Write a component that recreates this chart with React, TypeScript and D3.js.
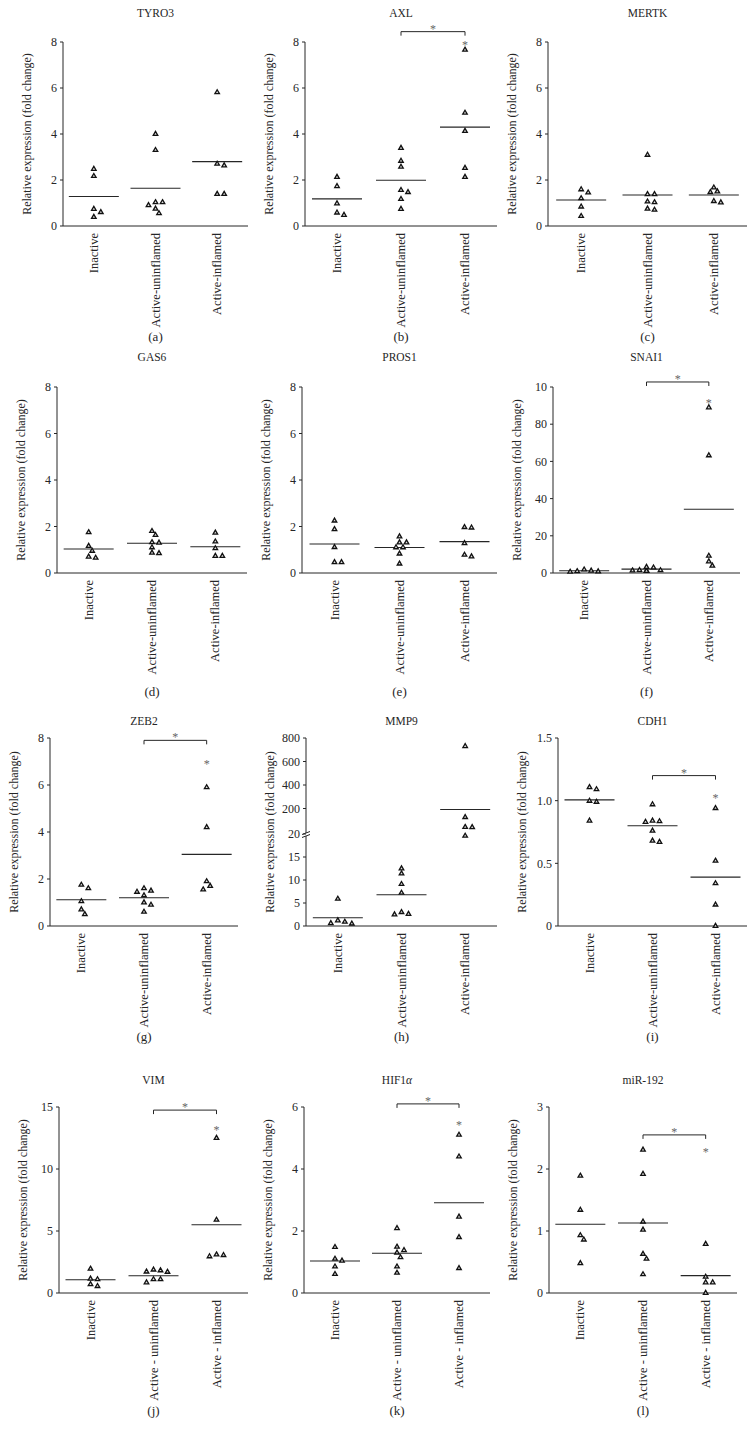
import React from "react";
import * as d3 from "d3";

// group names (rows 1-3 use hyphen, row 4 uses spaced hyphen)
const GROUPS = ["Inactive", "Active-uninflamed", "Active-inflamed"];
const GROUPS_SPACED = ["Inactive", "Active - uninflamed", "Active - inflamed"];

const CAPTIONS = ["(a)", "(b)", "(c)", "(d)", "(e)", "(f)", "(g)", "(h)", "(i)", "(j)", "(k)", "(l)"];

// fold-change values, one array per group
const tyro3Values = [
  [2.48, 2.17, 0.74, 0.6, 0.39],
  [4.0, 3.3, 1.03, 1.03, 0.9, 0.75, 0.55],
  [5.81, 2.7, 2.63, 1.39, 1.39],
];
const tyro3Means = [1.28, 1.64, 2.8];

const axlValues = [
  [2.13, 1.73, 0.98, 0.58, 0.48],
  [3.39, 2.83, 2.57, 1.56, 1.47, 1.17, 0.74],
  [7.66, 4.92, 4.13, 2.52, 2.13],
];
const axlMeans = [1.18, 1.99, 4.3];

const mertkValues = [
  [1.59, 1.45, 1.2, 0.84, 0.43],
  [3.09, 1.38, 1.38, 1.06, 1.03, 0.7, 0.75],
  [1.67, 1.5, 1.47, 1.02, 1.08],
];
const mertkMeans = [1.13, 1.35, 1.35];

const gas6Values = [
  [1.75, 1.16, 0.95, 0.7, 0.65],
  [1.8, 1.63, 1.32, 1.3, 1.1, 0.87, 0.85],
  [1.73, 1.35, 1.06, 0.73, 0.73],
];
const gas6Means = [1.03, 1.28, 1.13];

const pros1Values = [
  [2.25, 1.88, 1.11, 0.46, 0.46],
  [1.57, 1.31, 1.31, 1.1, 1.1, 0.83, 0.4],
  [1.95, 1.97, 1.28, 0.71, 0.78],
];
const pros1Means = [1.25, 1.1, 1.35];

const snai1Values = [
  [1.8, 1.2, 0.8, 0.6, 0.9],
  [1.5, 1.2, 1.0, 3.2, 1.3, 1.4, 2.9],
  [89, 63.2, 9.2, 6.2, 3.9],
];
const snai1Means = [1.2, 2.1, 34.3];
const snai1TickLabels = ["0", "20", "40", "60", "80", "10"];

const zeb2Values = [
  [1.75, 1.6, 1.05, 0.7, 0.5],
  [1.6, 1.45, 1.5, 1.3, 1.0, 0.9, 0.6],
  [5.9, 4.2, 1.9, 1.55, 1.7],
];
const zeb2Means = [1.12, 1.2, 3.05];

const mmp9Values = [
  [5.9, 0.9, 0.5, 0.6, 1.2],
  [12.5, 11.4, 9.1, 7.2, 3.0, 2.5, 2.6],
  [730, 126, 42, 40, 19.6],
];
const mmp9Means = [1.8, 6.8, 192];

const cdh1Values = [
  [1.09, 1.107, 0.998, 0.99, 0.84],
  [0.97, 0.84, 0.83, 0.835, 0.76, 0.67, 0.68],
  [0.94, 0.52, 0.34, 0.17, 0.0],
];
const cdh1Means = [1.006, 0.8, 0.39];
const cdh1TickLabels = ["0", "0.5", "1.0", "1.5"];

const vimValues = [
  [1.95, 1.15, 1.1, 0.55, 0.7],
  [1.88, 1.72, 1.7, 1.82, 1.1, 0.85, 1.1],
  [12.5, 5.9, 3.1, 2.95, 3.05],
];
const vimMeans = [1.07, 1.39, 5.5];

const hif1aValues = [
  [1.48, 1.04, 1.1, 0.85, 0.61],
  [2.09, 1.49, 1.38, 1.3, 1.15, 0.85, 0.65],
  [5.1, 4.4, 2.46, 1.8, 0.8],
];
const hif1aMeans = [1.03, 1.28, 2.91];

const mir192Values = [
  [1.89, 1.34, 0.93, 0.86, 0.48],
  [2.31, 1.92, 1.15, 1.02, 0.63, 0.55, 0.3],
  [0.79, 0.26, 0.17, 0.17, 0.0],
];
const mir192Means = [1.11, 1.13, 0.28];

interface Sig {
  bracket: number; // value where the bracket sits
  star: number; // value of the asterisk above the inflamed group
}

interface Panel {
  title: string;
  groups: string[];
  values: number[][];
  means: number[];
  yMax: number;
  ticks: number[];
  tickLabels?: string[];
  sig?: Sig;
  broken?: boolean;
}

const panels: Panel[] = [
  { title: "TYRO3", groups: GROUPS, values: tyro3Values, means: tyro3Means, yMax: 8, ticks: [0, 2, 4, 6, 8] },
  { title: "AXL", groups: GROUPS, values: axlValues, means: axlMeans, yMax: 8, ticks: [0, 2, 4, 6, 8], sig: { bracket: 8.45, star: 7.97 } },
  { title: "MERTK", groups: GROUPS, values: mertkValues, means: mertkMeans, yMax: 8, ticks: [0, 2, 4, 6, 8] },
  { title: "GAS6", groups: GROUPS, values: gas6Values, means: gas6Means, yMax: 8, ticks: [0, 2, 4, 6, 8] },
  { title: "PROS1", groups: GROUPS, values: pros1Values, means: pros1Means, yMax: 8, ticks: [0, 2, 4, 6, 8] },
  { title: "SNAI1", groups: GROUPS, values: snai1Values, means: snai1Means, yMax: 100, ticks: [0, 20, 40, 60, 80, 100], tickLabels: snai1TickLabels, sig: { bracket: 102.7, star: 92.4 } },
  { title: "ZEB2", groups: GROUPS, values: zeb2Values, means: zeb2Means, yMax: 8, ticks: [0, 2, 4, 6, 8], sig: { bracket: 7.9, star: 7.0 } },
  { title: "MMP9", groups: GROUPS, values: mmp9Values, means: mmp9Means, yMax: 800, ticks: [0, 5, 10, 15, 20, 200, 400, 600, 800], broken: true },
  { title: "CDH1", groups: GROUPS, values: cdh1Values, means: cdh1Means, yMax: 1.5, ticks: [0, 0.5, 1, 1.5], tickLabels: cdh1TickLabels, sig: { bracket: 1.2, star: 1.04 } },
  { title: "VIM", groups: GROUPS_SPACED, values: vimValues, means: vimMeans, yMax: 15, ticks: [0, 5, 10, 15], sig: { bracket: 14.75, star: 13.3 } },
  { title: "HIF1α", groups: GROUPS_SPACED, values: hif1aValues, means: hif1aMeans, yMax: 6, ticks: [0, 2, 4, 6], sig: { bracket: 6.1, star: 5.5 } },
  { title: "miR-192", groups: GROUPS_SPACED, values: mir192Values, means: mir192Means, yMax: 3, ticks: [0, 1, 2, 3], sig: { bracket: 2.55, star: 2.3 } },
];

// panel placement on the page
const ROWS = [
  { top: 42, bottom: 226, titleY: 17, captionY: 341 },
  { top: 387, bottom: 573, titleY: 361, captionY: 696 },
  { top: 738, bottom: 926, titleY: 725, captionY: 1041 },
  { top: 1107, bottom: 1293, titleY: 1084, captionY: 1415 },
];
const AXIS_X = [
  [63, 305, 548],
  [57, 302, 553],
  [50, 306, 558],
  [59, 304, 549],
];
const AXIS_END = [
  [248, 497, 747],
  [247, 497, 740],
  [238, 497, 747],
  [248, 490, 737],
];

const FONT = "'Liberation Serif', 'DejaVu Serif', serif";
const INK = "#262626";
const triangle = d3.symbol().type(d3.symbolTriangle).size(9)() as string;

// greedy dodge so triangles at nearly equal values sit side by side
function dodge(ys: number[]): number[] {
  const order = ys.map((y, i) => i).sort((a, b) => ys[a] - ys[b]);
  const placed: { x: number; y: number }[] = [];
  const out = new Array(ys.length).fill(0);
  const steps = [0, 3.5, -3.5, 7, -7, 10.5, -10.5, 14, -14];
  for (const i of order) {
    const y = ys[i];
    let dx = 0;
    for (const s of steps) {
      if (placed.every((p) => Math.hypot(p.x - s, p.y - y) >= 5)) {
        dx = s;
        break;
      }
    }
    placed.push({ x: dx, y });
    out[i] = dx;
  }
  return out;
}

const PanelView = ({ panel, index }: { panel: Panel; index: number }) => {
  const row = Math.floor(index / 3);
  const col = index % 3;
  const { top, bottom, titleY, captionY } = ROWS[row];
  const axisX = AXIS_X[row][col];
  const xEnd = AXIS_END[row][col];

  const x = d3.scaleBand().domain(panel.groups).range([axisX, xEnd]);
  const cx = (g: string) => (x(g) as number) + x.bandwidth() / 2;

  let y: (v: number) => number;
  let breakY = 0;
  if (panel.broken) {
    // lower part 0–20, upper part up to 800
    const lower = d3.scaleLinear().domain([0, 20]).range([bottom, bottom - 92]);
    const upper = d3.scaleLinear().domain([0, 800]).range([bottom - 94, top]);
    breakY = bottom - 94;
    y = (v: number) => (v <= 20 ? lower(v) : upper(v));
  } else {
    const lin = d3.scaleLinear().domain([0, panel.yMax]).range([bottom, top]);
    y = (v: number) => lin(v);
  }

  const midX = (axisX + xEnd) / 2;
  const g3 = panel.groups[2];
  const g2 = panel.groups[1];

  return (
    <g fontFamily={FONT} fill={INK}>
      <text x={midX} y={titleY} textAnchor="middle" fontSize={11.5}>
        {panel.title === "HIF1α" ? (
          <>
            HIF1<tspan fontStyle="italic">α</tspan>
          </>
        ) : (
          panel.title
        )}
      </text>

      {/* axes */}
      {panel.broken ? (
        <>
          <line x1={axisX} x2={axisX} y1={top} y2={breakY + 1} stroke={INK} />
          <line x1={axisX} x2={axisX} y1={breakY + 4} y2={bottom} stroke={INK} />
          <line x1={axisX - 4} x2={axisX + 4} y1={breakY + 2.5} y2={breakY - 0.5} stroke={INK} />
          <line x1={axisX - 4} x2={axisX + 4} y1={breakY + 5.5} y2={breakY + 2.5} stroke={INK} />
        </>
      ) : (
        <line x1={axisX} x2={axisX} y1={top} y2={bottom} stroke={INK} />
      )}
      <line x1={axisX} x2={xEnd} y1={bottom} y2={bottom} stroke={INK} />

      {panel.ticks.map((t, i) => (
        <g key={i}>
          <line x1={axisX - 3} x2={axisX} y1={y(t)} y2={y(t)} stroke={INK} />
          <text x={axisX - 6} y={y(t)} dy="0.35em" textAnchor="end" fontSize={12}>
            {panel.tickLabels ? panel.tickLabels[i] : d3.format("")(t)}
          </text>
        </g>
      ))}

      <text
        transform={`translate(${axisX - 32},${(top + bottom) / 2}) rotate(-90)`}
        textAnchor="middle"
        fontSize={12}
      >
        Relative expression (fold change)
      </text>

      {panel.groups.map((g) => (
        <text
          key={g}
          transform={`translate(${cx(g) + 4},${bottom + 7}) rotate(-90)`}
          textAnchor="end"
          fontSize={12.5}
        >
          {g}
        </text>
      ))}

      {/* mean lines */}
      {panel.groups.map((g, gi) => (
        <line
          key={g}
          x1={cx(g) - 25}
          x2={cx(g) + 25}
          y1={y(panel.means[gi])}
          y2={y(panel.means[gi])}
          stroke={INK}
          strokeWidth={1.1}
        />
      ))}

      {/* points */}
      {panel.groups.map((g, gi) => {
        const ys = panel.values[gi].map((v) => y(v));
        const dx = dodge(ys);
        return ys.map((py, k) => (
          <path
            key={`${g}-${k}`}
            d={triangle}
            transform={`translate(${cx(g) + dx[k]},${py})`}
            fill="#ddd"
            stroke="#111"
            strokeWidth={1.3}
          />
        ));
      })}

      {panel.sig && (
        <>
          <path
            d={`M${cx(g2)},${y(panel.sig.bracket) + 4}V${y(panel.sig.bracket)}H${cx(g3)}V${y(panel.sig.bracket) + 4}`}
            fill="none"
            stroke={INK}
          />
          <text x={(cx(g2) + cx(g3)) / 2} y={y(panel.sig.bracket) + 1} textAnchor="middle" fontSize={12} fill="#666">
            *
          </text>
          <text x={cx(g3)} y={y(panel.sig.star) + 6} textAnchor="middle" fontSize={12} fill="#666">
            *
          </text>
        </>
      )}

      <text x={midX} y={captionY} textAnchor="middle" fontSize={13}>
        {CAPTIONS[index]}
      </text>
    </g>
  );
};

export default function App() {
  return (
    <svg
      width={755}
      height={1440}
      style={{ position: "absolute", left: 0, top: 0, background: "#fff" }}
    >
      <rect width={755} height={1440} fill="#fff" />
      {panels.map((p, i) => (
        <PanelView key={p.title} panel={p} index={i} />
      ))}
    </svg>
  );
}
